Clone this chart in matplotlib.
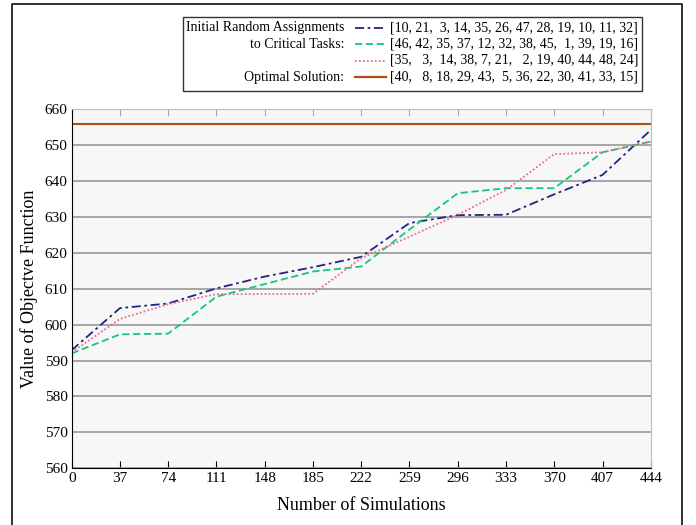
import matplotlib
matplotlib.use('Agg')
import matplotlib.pyplot as plt
from matplotlib.lines import Line2D
from matplotlib.patches import Rectangle

plt.rcParams['font.family'] = ['Liberation Serif', 'DejaVu Serif']

# dados
simulacoes = [0, 37, 74, 111, 148, 185, 222, 259, 296, 333, 370, 407, 444]
serie_a = [592.9, 604.6, 605.9, 610.1, 613.4, 616.0, 618.9, 628.3, 630.5, 630.6, 636.3, 641.7, 654.2]
serie_b = [592.0, 597.3, 597.5, 607.8, 611.3, 614.8, 616.2, 626.5, 636.6, 638.0, 638.0, 648.0, 651.0]
serie_c = [592.3, 601.6, 605.7, 608.5, 608.5, 608.6, 618.5, 624.5, 630.6, 637.5, 647.5, 648.0, 651.0]
otimo = 656.0

rotulos = ['[10, 21,  3, 14, 35, 26, 47, 28, 19, 10, 11, 32]',
           '[46, 42, 35, 37, 12, 32, 38, 45,  1, 39, 19, 16]',
           '[35,   3,  14, 38, 7, 21,   2, 19, 40, 44, 48, 24]',
           '[40,   8, 18, 29, 43,  5, 36, 22, 30, 41, 33, 15]']
rotulos_esq = ['Initial Random Assignments', 'to Critical Tasks:', '', 'Optimal Solution:']

cores = ['#232383', '#10c878', '#ec6c8c', '#b04c14']
estilos = [(0, (5, 2, 1.5, 2)), (0, (4, 2)), (0, (1, 1.2)), '-']

fig = plt.figure(figsize=(6.96, 5.25), dpi=100)
ax = fig.add_axes([0.103, 0.108, 0.832, 0.684])
ax.set_facecolor('#f7f7f7')

ax.plot(simulacoes, serie_a, color=cores[0], linestyle=estilos[0], lw=1.3)
ax.plot(simulacoes, serie_b, color=cores[1], linestyle=estilos[1], lw=1.3)
ax.plot(simulacoes, serie_c, color=cores[2], linestyle=estilos[2], lw=1.3)
ax.axhline(otimo, color=cores[3], lw=1.5)

ax.set_xlim(0, 444)
ax.set_ylim(560, 660)
ax.set_xticks(simulacoes)
ax.set_yticks(range(560, 661, 10))
ax.yaxis.grid(True, color='#999999', lw=1.2)
ax.set_axisbelow(True)
ax.tick_params(axis='x', direction='in', length=5, color='black', labelsize=11, pad=3)
ax.tick_params(axis='y', length=0, labelsize=11, pad=3)
ax.spines['left'].set_color('black')
ax.spines['bottom'].set_color('black')
ax.spines['top'].set_color('#bbbbbb')
ax.spines['right'].set_color('#bbbbbb')

# ticks cinza no topo
ax2 = ax.secondary_xaxis('top')
ax2.set_xticks(simulacoes)
ax2.tick_params(direction='in', length=5, color='#aaaaaa', labeltop=False)
ax2.spines['top'].set_visible(False)

ax.set_xlabel('Number of Simulations', fontsize=13, labelpad=8)
ax.set_ylabel('Value of Objectve Function', fontsize=13, labelpad=5)

# moldura da figura
W, H = 696.0, 525.0
fig.add_artist(Line2D([11.5 / W, 11.5 / W, 682 / W, 682 / W], [0, 1 - 3.5 / H, 1 - 3.5 / H, 0],
                      color='#222222', lw=1.3, transform=fig.transFigure))

# legenda manual
fig.add_artist(Rectangle((183 / W, 1 - 90.5 / H), (642 - 183) / W, (90.5 - 16.5) / H,
                         fill=False, edgecolor='#333333', lw=1.0, transform=fig.transFigure))
linhas_y = [27.5, 44, 60.5, 77]
for i in range(4):
    y = 1 - linhas_y[i] / H
    fig.add_artist(Line2D([355 / W, 386 / W], [y, y], color=cores[i], linestyle=estilos[i],
                          lw=1.3 if i < 3 else 1.6, transform=fig.transFigure))
    fig.text(390 / W, y, rotulos[i], fontsize=10, va='center', ha='left')
    fig.text(344 / W, y, rotulos_esq[i], fontsize=10, va='center', ha='right')

plt.savefig('out.png', dpi=100)
